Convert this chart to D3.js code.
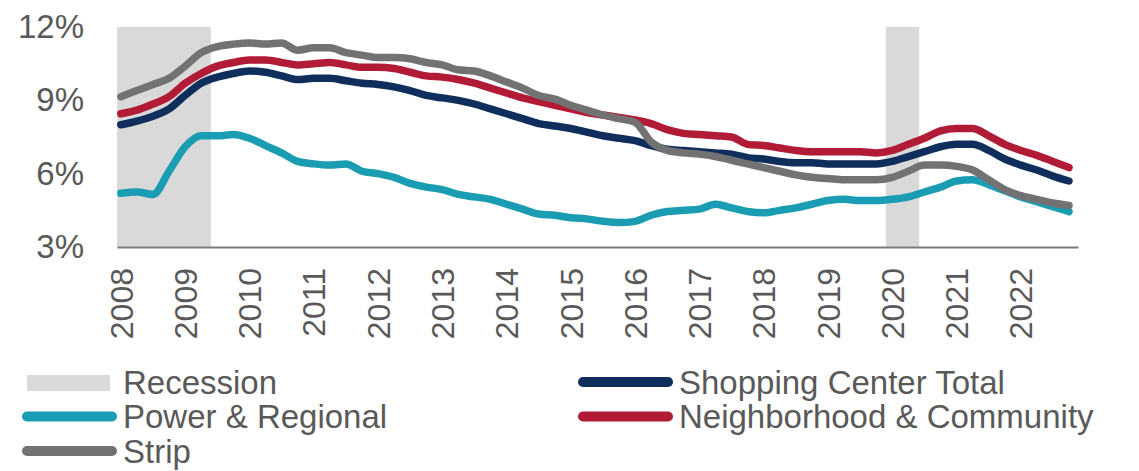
<!DOCTYPE html>
<html>
<head>
<meta charset="utf-8">
<script src="https://cdn.jsdelivr.net/npm/d3@7"></script>
<style>
  body { margin: 0; background: #fff; }
  text { font-family: "Liberation Sans", Arial, sans-serif; fill: #595959; }
</style>
</head>
<body>
<div id="chart"></div>
<script>
// year ticks, data is quarterly (Q1 2008 .. Q4 2022)
const years = [2008, 2009, 2010, 2011, 2012, 2013, 2014, 2015, 2016, 2017, 2018, 2019, 2020, 2021, 2022]
const quarters = years.flatMap(y => [y, y + 0.25, y + 0.5, y + 0.75])

// recession periods in decimal years
const recessions = [[2007.9, 2009.4], [2019.9, 2020.42]]

const yTicks = [3, 6, 9, 12]

// vacancy rates, %
const shoppingTotal = [
  8.0, 8.15, 8.35, 8.65, 9.2, 9.7, 9.95, 10.1, 10.2, 10.15, 10.0, 9.85, 9.9, 9.9, 9.8, 9.7,
  9.65, 9.55, 9.4, 9.2, 9.1, 9.0, 8.85, 8.65, 8.45, 8.25, 8.05, 7.95, 7.85, 7.7, 7.55, 7.45,
  7.35, 7.15, 7.0, 6.95, 6.9, 6.85, 6.8, 6.65, 6.6, 6.5, 6.45, 6.45, 6.4, 6.4, 6.4, 6.4,
  6.5, 6.7, 6.9, 7.1, 7.2, 7.2, 6.95, 6.6, 6.35, 6.15, 5.9, 5.7]
const powerRegional = [
  5.2, 5.25, 5.15, 6.1, 7.1, 7.55, 7.55, 7.6, 7.45, 7.15, 6.85, 6.5, 6.4, 6.35, 6.4, 6.1,
  6.0, 5.85, 5.6, 5.45, 5.35, 5.15, 5.05, 4.95, 4.75, 4.55, 4.35, 4.3, 4.2, 4.15, 4.05, 4.0,
  4.05, 4.3, 4.45, 4.5, 4.55, 4.75, 4.6, 4.45, 4.4, 4.5, 4.6, 4.75, 4.9, 4.95, 4.9, 4.9,
  4.95, 5.05, 5.25, 5.45, 5.7, 5.75, 5.55, 5.3, 5.05, 4.85, 4.65, 4.45]
const neighborhood = [
  8.45, 8.6, 8.85, 9.15, 9.7, 10.1, 10.4, 10.55, 10.65, 10.65, 10.55, 10.45, 10.5, 10.55, 10.45, 10.35,
  10.35, 10.3, 10.15, 10.0, 9.95, 9.85, 9.7, 9.5, 9.3, 9.1, 8.95, 8.8, 8.65, 8.5, 8.4, 8.3,
  8.2, 8.05, 7.8, 7.65, 7.6, 7.55, 7.5, 7.2, 7.15, 7.05, 6.95, 6.9, 6.9, 6.9, 6.9, 6.85,
  6.95, 7.2, 7.45, 7.75, 7.85, 7.85, 7.55, 7.2, 6.95, 6.75, 6.5, 6.25]
const strip = [
  9.15, 9.4, 9.65, 9.9, 10.4, 10.95, 11.2, 11.3, 11.35, 11.3, 11.35, 11.05, 11.15, 11.15, 10.95, 10.85,
  10.75, 10.75, 10.7, 10.55, 10.45, 10.25, 10.2, 10.0, 9.75, 9.5, 9.2, 9.05, 8.8, 8.6, 8.4, 8.25,
  8.1, 7.3, 6.95, 6.85, 6.8, 6.7, 6.55, 6.4, 6.25, 6.1, 5.95, 5.85, 5.8, 5.75, 5.75, 5.75,
  5.85, 6.1, 6.35, 6.35, 6.3, 6.15, 5.75, 5.35, 5.1, 4.95, 4.8, 4.7]

const series = [
  { name: 'Power & Regional', values: powerRegional, color: '#1a9db3' },
  { name: 'Shopping Center Total', values: shoppingTotal, color: '#0f2e5c' },
  { name: 'Neighborhood & Community', values: neighborhood, color: '#b11b36' },
  { name: 'Strip', values: strip, color: '#727272' }
]

const width = 1139, height = 471
const plotLeft = 117, plotRight = 1078, plotTop = 27, plotBottom = 247

const x = d3.scaleLinear().domain([2007.94, 2022.89]).range([plotLeft, plotRight])
const y = d3.scaleLinear().domain([3, 12]).range([plotBottom, plotTop])

const svg = d3.select('#chart')
  .append('svg')
  .attr('width', width)
  .attr('height', height)

// recession shading
svg.selectAll('rect.rec')
  .data(recessions)
  .enter()
  .append('rect')
  .attr('class', 'rec')
  .attr('x', d => Math.max(plotLeft, x(d[0])))
  .attr('y', plotTop)
  .attr('width', d => x(d[1]) - Math.max(plotLeft, x(d[0])))
  .attr('height', plotBottom - plotTop)
  .attr('fill', '#d9d9d9')

// y axis labels
const yAxis = svg.append('g')
  .attr('transform', 'translate(84,0)')
  .call(d3.axisLeft(y).tickValues(yTicks).tickSize(0).tickPadding(0).tickFormat(d => d + '%'))
yAxis.select('.domain').remove()
yAxis.selectAll('text')
  .attr('font-size', 33)
  .attr('font-family', '"Liberation Sans", Arial, sans-serif')
  .attr('fill', '#595959')

// lines
const line = d3.line()
  .x((d, i) => x(quarters[i]))
  .y(d => y(d))
  .curve(d3.curveMonotoneX)

svg.selectAll('path.series')
  .data(series)
  .enter()
  .append('path')
  .attr('class', 'series')
  .attr('d', d => line(d.values))
  .attr('fill', 'none')
  .attr('stroke', d => d.color)
  .attr('stroke-width', 7.5)
  .attr('stroke-linejoin', 'round')
  .attr('stroke-linecap', 'round')

// x axis
const xAxis = svg.append('g')
  .attr('transform', `translate(0,${plotBottom})`)
  .call(d3.axisBottom(x).tickValues(years).tickSize(0).tickFormat(d3.format('d')))
xAxis.select('.domain')
  .attr('stroke', '#7a7a7a')
  .attr('stroke-width', 2)
xAxis.selectAll('text')
  .attr('font-size', 32)
  .attr('font-family', '"Liberation Sans", Arial, sans-serif')
  .attr('fill', '#595959')
  .attr('text-anchor', 'end')
  .attr('transform', 'rotate(-90)')
  .attr('x', -21)
  .attr('y', 0)
  .attr('dy', '0.35em')

// legend
const legendItems = [
  { name: 'Recession', type: 'rect', color: '#d9d9d9', lx: 27, ly: 382 },
  { name: 'Power & Regional', type: 'line', color: series[0].color, lx: 27, ly: 416.5 },
  { name: 'Strip', type: 'line', color: series[3].color, lx: 27, ly: 451 },
  { name: 'Shopping Center Total', type: 'line', color: series[1].color, lx: 583, ly: 382 },
  { name: 'Neighborhood & Community', type: 'line', color: series[2].color, lx: 583, ly: 416.5 }
]

const leg = svg.selectAll('g.legend')
  .data(legendItems)
  .enter()
  .append('g')
  .attr('class', 'legend')
  .attr('transform', d => `translate(${d.lx},${d.ly})`)

leg.filter(d => d.type === 'rect')
  .append('rect')
  .attr('x', 0)
  .attr('y', -7)
  .attr('width', 83)
  .attr('height', 16)
  .attr('fill', d => d.color)

leg.filter(d => d.type === 'line')
  .append('line')
  .attr('x1', 0)
  .attr('x2', 85)
  .attr('stroke', d => d.color)
  .attr('stroke-width', 10)
  .attr('stroke-linecap', 'round')

leg.append('text')
  .attr('x', 96)
  .attr('dy', '0.35em')
  .attr('font-size', 33)
  .text(d => d.name)
</script>
</body>
</html>
